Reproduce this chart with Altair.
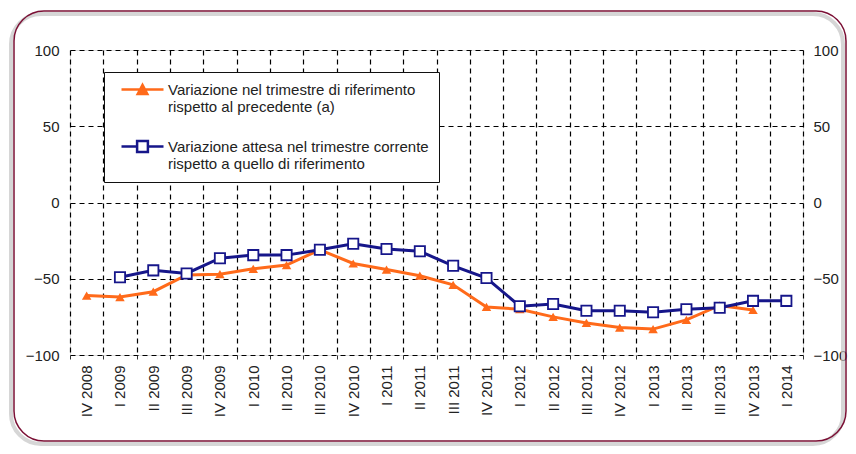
import altair as alt
import pandas as pd

FONT = "Liberation Sans"
ORANGE = "#FF6A1A"
NAVY = "#16168A"

periods = ["IV 2008", "I 2009", "II 2009", "III 2009", "IV 2009", "I 2010", "II 2010",
           "III 2010", "IV 2010", "I 2011", "II 2011", "III 2011", "IV 2011", "I 2012",
           "II 2012", "III 2012", "IV 2012", "I 2013", "II 2013", "III 2013", "IV 2013",
           "I 2014"]

label_a = "Variazione nel trimestre di riferimento\nrispetto al precedente (a)"
label_b = "Variazione attesa nel trimestre corrente\nrispetto a quello di riferimento"

# Series (a): IV 2008 .. IV 2013
values_a = [-61, -62, -58.5, -47.5, -47, -43.5, -41, -31, -40, -44, -48, -54, -68.5,
            -70, -75, -79, -82, -83, -77, -67.5, -70.5]
# Series (b): I 2009 .. I 2014
values_b = [-49, -44.5, -46.5, -36.5, -34.5, -34.5, -31, -27, -30.5, -32, -41.5, -49.5,
            -68, -66.5, -71, -71, -72, -70, -69, -64.5, -64.5]

y_ticks = [-100, -50, 0, 50, 100]

rows = []
for p, v in zip(periods[:len(values_a)], values_a):
    rows.append({"period": p, "series": label_a, "value": v})
for p, v in zip(periods[len(periods) - len(values_b):], values_b):
    rows.append({"period": p, "series": label_b, "value": v})
df = pd.DataFrame(rows)

W, H = 733, 305
FS = 15

x_enc = alt.X(
    "period:N", sort=periods, title=None,
    scale=alt.Scale(type="band", domain=periods, paddingInner=0, paddingOuter=0),
    axis=alt.Axis(labelAngle=270, labelAlign="right", labelBaseline="middle",
                  labelPadding=6, labelFontSize=FS, labelFont=FONT, labelColor="#222",
                  labelOverlap=False, tickBand="extent", ticks=True, tickSize=4,
                  tickColor="#333", tickWidth=1, grid=True, gridColor="#000",
                  gridDash=[5, 4], gridWidth=1.2, domain=False),
)
y_scale = alt.Scale(domain=[-100, 100], nice=False, zero=False)
y_enc = alt.Y(
    "value:Q", title=None, scale=y_scale,
    axis=alt.Axis(values=y_ticks, ticks=False, domain=False, grid=True, gridColor="#000",
                  gridDash=[5, 4], gridWidth=1.2, labelPadding=11, labelFontSize=FS,
                  labelFont=FONT, labelColor="#222"),
)

base = alt.Chart(df)
line_a = base.transform_filter(alt.datum.series == label_a).mark_line(
    color=ORANGE, strokeWidth=3).encode(x=x_enc, y=y_enc)
pts_a = base.transform_filter(alt.datum.series == label_a).mark_point(
    shape="triangle-up", filled=True, color=ORANGE, size=90, opacity=1).encode(x=x_enc, y=y_enc)
line_b = base.transform_filter(alt.datum.series == label_b).mark_line(
    color=NAVY, strokeWidth=3).encode(x=x_enc, y=y_enc)
pts_b = base.transform_filter(alt.datum.series == label_b).mark_point(
    shape="square", filled=False, fill="white", stroke=NAVY, strokeWidth=1.8, size=105,
    opacity=1).encode(x=x_enc, y=y_enc)

inner = alt.layer(line_a, pts_a, line_b, pts_b)

# legend symbols: unit = 6 px, line from 0 to 7 units, marker at 3.5
path_a = "M0,0L7,0M2.7,0.75L3.5,-0.75L4.3,0.75Z"
path_b = "M0,0L2.6,0M4.4,0L7,0M2.6,-0.9L4.4,-0.9L4.4,0.9L2.6,0.9Z"

leg = alt.Legend(title=None, orient="none", legendX=34, legendY=22, direction="vertical",
                 fillColor="white", strokeColor="#111", padding=10, rowPadding=21,
                 symbolSize=144, symbolStrokeWidth=2.5, symbolOpacity=1,
                 labelFontSize=FS, labelFont=FONT, labelColor="#222", labelLimit=450,
                 labelOffset=39, labelExpr="split(datum.label, '\\n')")

legend_layer = alt.Chart(df).transform_filter("false").mark_point(opacity=1).encode(
    y=alt.Y("value:Q", title=None, scale=y_scale,
            axis=alt.Axis(orient="right", values=y_ticks, ticks=False, domain=False,
                          grid=False, labelPadding=10, labelFontSize=FS, labelFont=FONT,
                          labelColor="#222")),
    shape=alt.Shape("series:N", scale=alt.Scale(domain=[label_a, label_b], range=[path_a, path_b]),
                    legend=leg),
    stroke=alt.Stroke("series:N", scale=alt.Scale(domain=[label_a, label_b], range=[ORANGE, NAVY]),
                      legend=leg),
    fill=alt.Fill("series:N", scale=alt.Scale(domain=[label_a, label_b], range=[ORANGE, "white"]),
                  legend=leg),
)

decor = alt.Data(values=[{}])
shadow = alt.Chart(decor).mark_rect(fill="transparent", stroke="#c4c4c4", strokeWidth=4,
                                    strokeOpacity=0.7, cornerRadius=30).encode(
    x=alt.value(-59), x2=alt.value(773), y=alt.value(-36), y2=alt.value(394))
frame = alt.Chart(decor).mark_rect(fill="transparent", stroke="#7B1035", strokeWidth=1.5,
                                   cornerRadius=30).encode(
    x=alt.value(-56), x2=alt.value(776), y=alt.value(-39), y2=alt.value(391))

chart = alt.layer(shadow, frame, inner, legend_layer).resolve_scale(y="independent").properties(
    width=W, height=H,
    autosize=alt.AutoSizeParams(type="none"),
    padding={"left": 62, "top": 42, "right": 45, "bottom": 91},
).configure_view(stroke="#333", strokeWidth=1.5).configure(background="white")

chart.save("out.html", embed_options={"renderer": "svg", "actions": False})
